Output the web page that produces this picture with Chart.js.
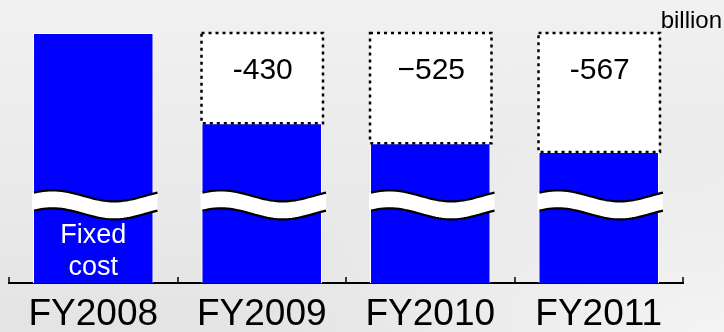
<!DOCTYPE html>
<html>
<head>
<meta charset="utf-8">
<script src="https://cdn.jsdelivr.net/npm/chart.js@4/dist/chart.umd.min.js"></script>
<style>
  html, body { margin: 0; padding: 0; }
  body {
    width: 724px; height: 332px; overflow: hidden;
    background:
      radial-gradient(ellipse at 100% 100%, rgba(244,244,244,1) 0%, rgba(244,244,244,0) 45%),
      linear-gradient(to bottom, #f1f1f1 0%, #e4e4e4 100%);
  }
  canvas { display: block; }
</style>
</head>
<body>
<canvas id="chart" width="724" height="332"></canvas>
<script>
// Fiscal years on the category axis
const categories = ['FY2008', 'FY2009', 'FY2010', 'FY2011'];
// Remaining fixed cost (height above the axis break), billion
const fixedCost = [1190, 760, 665, 623];
// Reduction versus FY2008, billion
const reduction = [null, 430, 525, 567];
// Texts written inside the reduction boxes
const reductionLabels = ['', '-430', '\u2212525', '-567'];
const fixedCostLabel = ['Fixed', 'cost'];
const unitLabel = 'billion';

const FONT = "'Liberation Sans', Arial, sans-serif";
const BREAK_VALUE = 372; // where the wavy axis-break band crosses the bars

const decorations = {
  id: 'decorations',
  afterDatasetsDraw(chart) {
    const ctx = chart.ctx;
    const xs = chart.scales.x;
    const ys = chart.scales.y;
    const costMeta = chart.getDatasetMeta(0);
    const redMeta = chart.getDatasetMeta(1);

    // Axis-break wave across every fixed-cost bar
    const yBreak = ys.getPixelForValue(BREAK_VALUE);
    costMeta.data.forEach((el) => {
      const p = el.getProps(['x', 'y', 'base', 'width'], true);
      const x0 = p.x - p.width / 2 - 1;
      const x1 = p.x + p.width / 2 + 4;
      const amp = 5.5, half = 9, steps = 40;
      const wave = (t, off) => yBreak + off - amp * Math.cos(2 * Math.PI * (t - 0.15));
      ctx.save();
      ctx.beginPath();
      for (let i = 0; i <= steps; i++) {
        const t = i / steps;
        const px = x0 + (x1 - x0) * t;
        if (i === 0) ctx.moveTo(px, wave(t, -half)); else ctx.lineTo(px, wave(t, -half));
      }
      for (let i = steps; i >= 0; i--) {
        const t = i / steps;
        ctx.lineTo(x0 + (x1 - x0) * t, wave(t, half));
      }
      ctx.closePath();
      ctx.fillStyle = '#ffffff';
      ctx.fill();
      ctx.strokeStyle = '#000000';
      ctx.lineWidth = 2.2;
      [-half, half].forEach((off) => {
        ctx.beginPath();
        for (let i = 0; i <= steps; i++) {
          const t = i / steps;
          const px = x0 + 2 + (x1 - x0 - 2) * t;
          if (i === 0) ctx.moveTo(px, wave(t, off)); else ctx.lineTo(px, wave(t, off));
        }
        ctx.stroke();
      });
      ctx.restore();
    });

    // "Fixed cost" caption inside the first bar
    const first = costMeta.data[0].getProps(['x', 'base'], true);
    ctx.save();
    ctx.fillStyle = '#ffffff';
    ctx.font = '27px ' + FONT;
    ctx.textAlign = 'center';
    ctx.textBaseline = 'alphabetic';
    ctx.fillText(fixedCostLabel[0], first.x, first.base - 40);
    ctx.fillText(fixedCostLabel[1], first.x, first.base - 8);
    ctx.restore();

    // Dotted outline and value text of each reduction box
    redMeta.data.forEach((el, i) => {
      if (reduction[i] == null) return;
      const p = el.getProps(['x', 'y', 'base', 'width'], true);
      ctx.save();
      ctx.strokeStyle = '#000000';
      ctx.lineWidth = 2.5;
      ctx.setLineDash([3, 4]);
      ctx.strokeRect(p.x - p.width / 2, p.y, p.width + 1, p.base - p.y);
      ctx.setLineDash([]);
      ctx.fillStyle = '#000000';
      ctx.font = '30px ' + FONT;
      ctx.textAlign = 'center';
      ctx.textBaseline = 'middle';
      ctx.fillText(reductionLabels[i], p.x + 1, p.y + 38);
      ctx.restore();
    });

    // Tick marks at the category boundaries, pointing up from the axis
    ctx.save();
    ctx.strokeStyle = '#000000';
    ctx.lineWidth = 1.5;
    for (let i = 0; i <= categories.length; i++) {
      const px = Math.round(xs.getPixelForValue(i - 0.5));
      ctx.beginPath();
      ctx.moveTo(px, xs.top);
      ctx.lineTo(px, xs.top - 6);
      ctx.stroke();
    }
    ctx.restore();

    // Unit
    ctx.save();
    ctx.fillStyle = '#000000';
    ctx.font = '24px ' + FONT;
    ctx.textAlign = 'right';
    ctx.textBaseline = 'alphabetic';
    ctx.fillText(unitLabel, chart.width - 2, 28);
    ctx.restore();
  }
};

new Chart(document.getElementById('chart'), {
  type: 'bar',
  data: {
    labels: categories,
    datasets: [
      {
        label: 'Fixed cost',
        data: fixedCost,
        backgroundColor: '#0000ff',
        borderColor: '#ffffff',
        borderWidth: 1,
        barPercentage: 0.715,
        categoryPercentage: 1.0
      },
      {
        label: 'Reduction',
        data: reduction,
        backgroundColor: '#ffffff',
        borderWidth: 0,
        barPercentage: 0.715,
        categoryPercentage: 1.0
      }
    ]
  },
  options: {
    responsive: false,
    animation: false,
    devicePixelRatio: 1,
    layout: { padding: { left: 9, right: 41, top: 33, bottom: 0 } },
    plugins: {
      legend: { display: false },
      tooltip: { enabled: false },
      title: { display: false }
    },
    scales: {
      x: {
        stacked: true,
        grid: { display: false, drawTicks: false },
        border: { display: true, color: '#000000', width: 2 },
        ticks: {
          color: '#000000',
          font: { family: FONT, size: 37 },
          padding: 10,
          autoSkip: false,
          maxRotation: 0
        },
        afterFit(scale) { scale.height = 49; }
      },
      y: {
        stacked: true,
        display: false,
        min: 0,
        max: 1190
      }
    }
  },
  plugins: [decorations]
});
</script>
</body>
</html>
